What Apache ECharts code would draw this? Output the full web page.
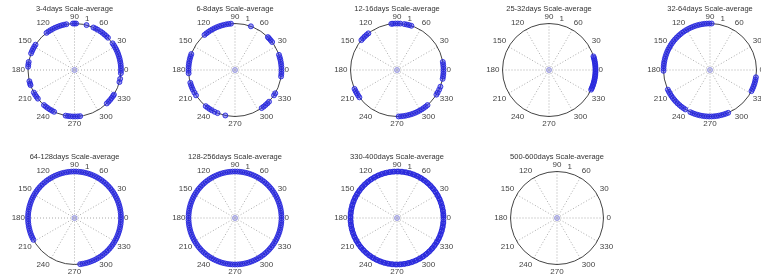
<!DOCTYPE html>
<html>
<head>
<meta charset="utf-8">
<script src="https://cdn.jsdelivr.net/npm/echarts@6/dist/echarts.min.js"></script>
<style>
  html, body { margin: 0; padding: 0; background: #fff; }
  #main { width: 761px; height: 279px; }
</style>
</head>
<body>
<div id="main"></div>
<script>
// titles of the nine panels
var titles = ['3-4days Scale-average', '6-8days Scale-average', '12-16days Scale-average',
  '25-32days Scale-average', '32-64days Scale-average', '64-128days Scale-average',
  '128-256days Scale-average', '330-400days Scale-average', '500-600days Scale-average'];

// radius tick label shown near 90
var radiusTickLabel = '1';

// phase angles (degrees) of the points, all at radius 1
var p1 = [75, 88, 90, 92, 100, 103, 106, 109, 112, 115, 118, 121, 124, 127, 147, 150, 153, 156, 159,
  170, 173, 176, 194, 197, 199, 209, 212, 215, 218, 229, 232, 235, 238, 241, 244,
  259, 262, 265, 268, 271, 274, 277, 314, 317, 320, 323, 326, 328, 345, 349,
  356, 359, 2, 5, 8, 11, 14, 17, 20, 23, 26, 29, 32, 35, 44, 47, 50, 53, 56, 60, 63, 66];
var p2 = [95, 98, 101, 104, 107, 110, 113, 116, 119, 122, 125, 128, 131, 70, 37, 40, 43, 45,
  352, 355, 358, 1, 4, 7, 10, 13, 16, 19, 327, 330, 305, 308, 311, 314, 317, 258,
  231, 234, 237, 240, 244, 248, 196, 199, 202, 205, 209, 213,
  160, 163, 166, 169, 172, 175, 178, 181, 184];
var p3 = [86, 89, 92, 95, 97, 72, 75, 78, 81, 128, 131, 134, 137, 140,
  349, 352, 355, 358, 1, 4, 7, 10, 328, 331, 335, 339,
  272, 275, 278, 281, 284, 287, 290, 293, 296, 299, 302, 305, 308, 311,
  204, 207, 210, 213, 216];
var p4 = [335, 337, 339, 341, 343, 345, 347, 349, 351, 353, 355, 357, 359, 1, 3, 5, 7, 9, 11, 13, 15, 17];
var p5 = [88, 91, 94, 97, 100, 103, 106, 109, 112, 115, 118, 121, 124, 127, 130, 133, 136, 139, 142,
  145, 148, 151, 154, 157, 160, 163, 166, 169, 172, 175, 178, 181,
  205, 208, 211, 214, 217, 220, 223, 226, 229, 232, 235, 238,
  245, 248, 251, 254, 257, 260, 263, 266, 269, 272, 275, 278, 281, 284, 287, 290, 293,
  333, 336, 339, 342, 345, 348, 351];
var p6 = [277, 280, 283, 286, 289, 292, 295, 298, 301, 304, 307, 310, 313, 316, 319, 322, 325, 328,
  331, 334, 337, 340, 343, 346, 349, 352, 355, 358, 1, 4, 7, 10, 13, 16, 19, 22, 25, 28, 31, 34,
  37, 40, 43, 46, 49, 52, 55, 58, 61, 64, 67, 70, 73, 76, 79, 82, 85, 88, 91, 94, 97, 100, 103,
  106, 109, 112, 115, 118, 121, 124, 127, 130, 133, 136, 139, 142, 145, 148, 151, 154, 157, 160,
  163, 166, 169, 172, 175, 178, 181, 184, 187, 190, 193, 196, 199, 202, 205, 208];
var p7 = [0, 3, 6, 9, 12, 15, 18, 21, 24, 27, 30, 33, 36, 39, 42, 45, 48, 51, 54, 57, 60, 63, 66,
  69, 72, 75, 78, 81, 84, 87, 90, 93, 96, 99, 102, 105, 108, 111, 114, 117, 120, 123, 126, 129,
  132, 135, 138, 141, 144, 147, 150, 153, 156, 159, 162, 165, 168, 171, 174, 177, 180, 183, 186,
  189, 192, 195, 198, 201, 204, 207, 210, 213, 216, 219, 222, 225, 228, 231, 234, 237, 240, 243,
  246, 249, 252, 255, 258, 261, 264, 267, 270, 273, 276, 279, 282, 285, 288, 291, 294, 297, 300,
  303, 306, 309, 312, 315, 318, 321, 324, 327, 330, 333, 336, 339, 342, 345, 348, 351, 354, 357];
var p8 = [1, 3, 5, 8, 10, 13, 15, 18, 20, 23, 25, 28, 30, 33, 35, 38, 40, 43, 45, 48, 50, 53, 55,
  58, 60, 63, 65, 68, 70, 73, 75, 78, 80, 83, 85, 88, 90, 93, 95, 98, 100, 103, 105, 108, 110,
  113, 115, 118, 120, 123, 125, 128, 130, 133, 135, 138, 140, 143, 145, 148, 150, 153, 155, 158,
  160, 163, 165, 168, 170, 173, 175, 178, 180, 183, 185, 188, 190, 193, 195, 198, 200, 203, 205,
  208, 210, 213, 215, 218, 220, 223, 225, 228, 230, 233, 235, 238, 240, 243, 245, 248, 250, 253,
  255, 258, 260, 263, 265, 268, 270, 273, 275, 278, 280, 283, 285, 288, 290, 293, 295, 298, 300,
  303, 305, 308, 310, 313, 315, 318, 320, 323, 325, 328, 330, 333, 335, 338, 340, 343, 345, 348,
  350, 353, 355, 358];
var p9 = [];
var phases = [p1, p2, p3, p4, p5, p6, p7, p8, p9];

// panel layout (px)
var cx = [74.5, 235, 397, 549, 710, 74.5, 235, 397, 557];
var cy = [70, 70, 70, 70, 70, 218, 218, 218, 218];
var R = 46.5;

var font = 'Liberation Sans';
var polar = [], angleAxis = [], radiusAxis = [], series = [], title = [];

for (var i = 0; i < phases.length; i++) {
    var c = [cx[i], cy[i]];
    polar.push({ center: c, radius: R });
    polar.push({ center: c, radius: R * 1.14 });

    title.push({
        text: titles[i], left: cx[i], top: cy[i] - 65, textAlign: 'center', padding: 0,
        textStyle: { fontSize: 7.5, fontWeight: 'normal', color: '#333', fontFamily: font }
    });

    // main polar: circle, dotted spokes, angle labels
    angleAxis.push({
        polarIndex: 2 * i, type: 'value', min: 0, max: 360, interval: 30,
        startAngle: 0, clockwise: false,
        axisLine: { lineStyle: { color: '#444', width: 1 } },
        axisTick: { show: false },
        splitLine: { show: true, lineStyle: { color: '#aaa', width: 1, type: [1, 2] } },
        axisLabel: {
            margin: 3, fontSize: 8, color: '#444', fontFamily: font,
            formatter: function (v) { return v === 360 ? '' : String(v); }
        }
    });
    radiusAxis.push({
        polarIndex: 2 * i, min: 0, max: 1,
        axisLine: { show: false }, axisTick: { show: false },
        axisLabel: { show: false }, splitLine: { show: false }
    });

    // overlay polar only for the radius label "1"
    angleAxis.push({ polarIndex: 2 * i + 1, type: 'value', min: 0, max: 360, startAngle: 76, show: false });
    radiusAxis.push({
        polarIndex: 2 * i + 1, min: 0, max: 1, interval: 1,
        axisLine: { show: false }, axisTick: { show: false }, splitLine: { show: false },
        axisLabel: {
            showMinLabel: false, margin: 0, align: 'center', verticalAlign: 'middle',
            fontSize: 8, color: '#444', fontFamily: font,
            formatter: function (v) { return v === 1 ? radiusTickLabel : ''; }
        }
    });

    series.push({
        type: 'scatter', coordinateSystem: 'polar', polarIndex: 2 * i,
        symbol: 'circle', symbolSize: 5, silent: true,
        itemStyle: { color: 'rgba(50,50,235,0.6)', borderColor: '#2020d8', borderWidth: 1 },
        data: phases[i].map(function (a) { return [1, a]; })
    });
    // origin marker
    series.push({
        type: 'scatter', coordinateSystem: 'polar', polarIndex: 2 * i,
        symbol: 'circle', symbolSize: 5, silent: true,
        itemStyle: { color: 'rgba(170,170,240,0.5)', borderColor: '#8888dd', borderWidth: 1 },
        data: [[0, 0]]
    });
}

var chart = echarts.init(document.getElementById('main'));
chart.setOption({
    animation: false,
    title: title,
    polar: polar,
    angleAxis: angleAxis,
    radiusAxis: radiusAxis,
    series: series
});
</script>
</body>
</html>
